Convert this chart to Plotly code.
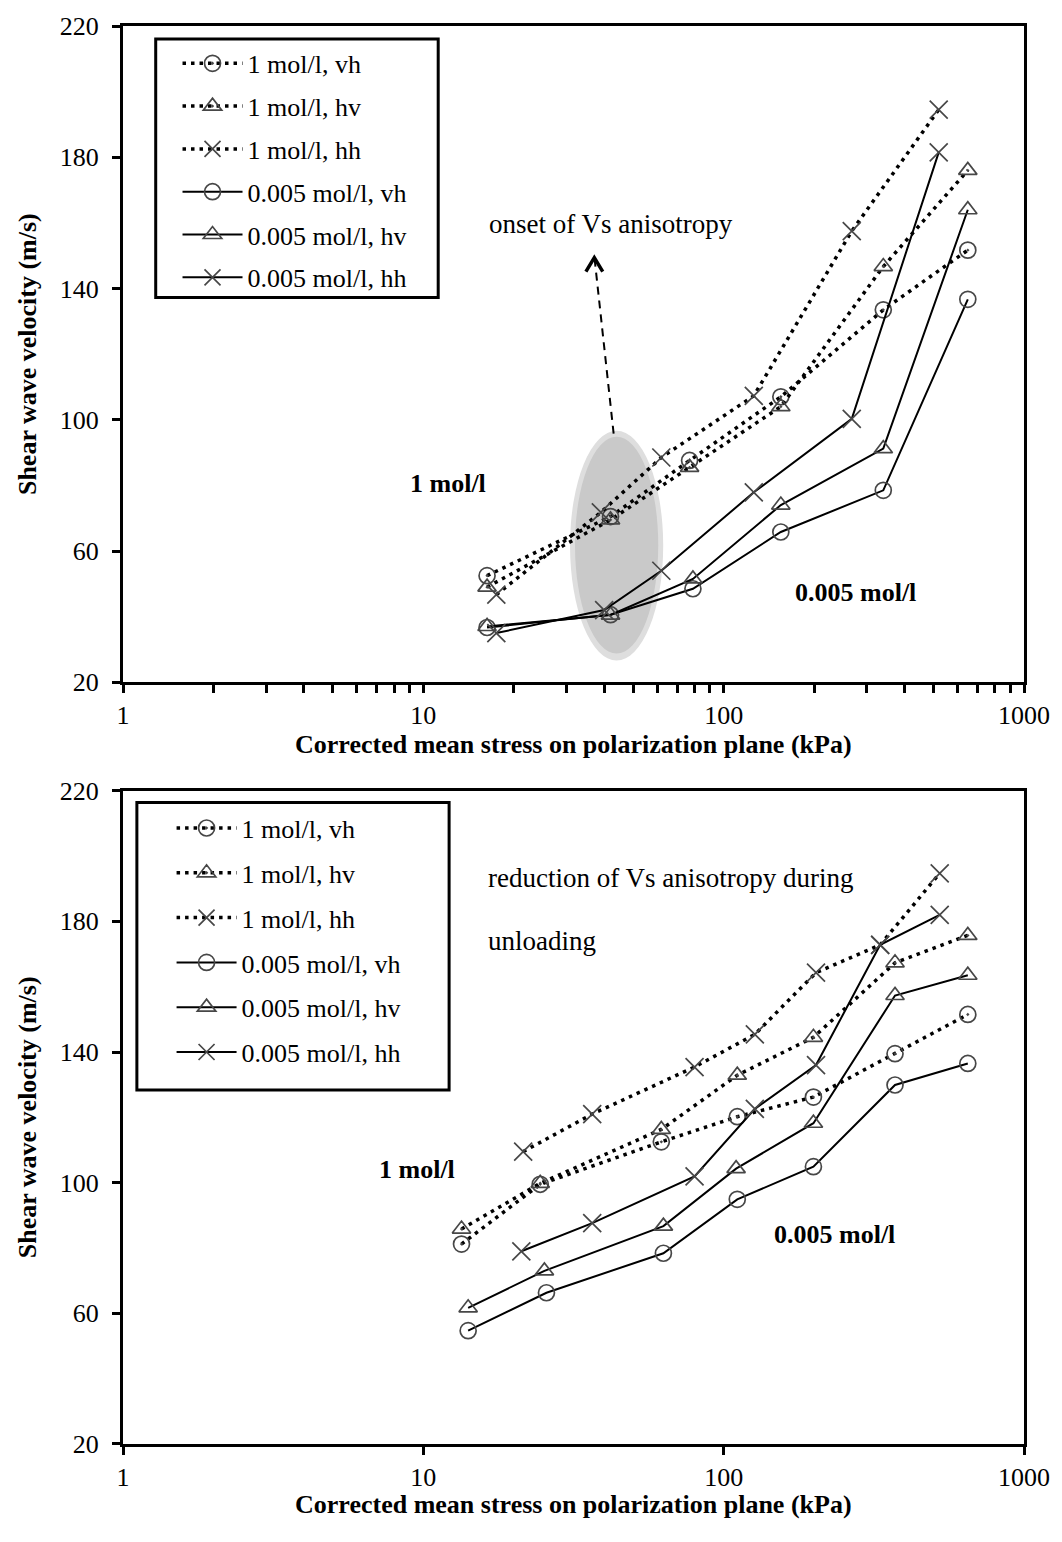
import plotly.graph_objects as go

# ---------------- data: top panel (loading) ----------------
series_names = ["1 mol/l, vh", "1 mol/l, hv", "1 mol/l, hh",
                "0.005 mol/l, vh", "0.005 mol/l, hv", "0.005 mol/l, hh"]

top_x_1m_vh = [16.3, 42, 77, 155, 340, 650]
top_y_1m_vh = [52.5, 70.5, 87.6, 107.0, 133.5, 151.7]
top_x_1m_hv = [16.3, 42, 77, 155, 340, 650]
top_y_1m_hv = [49.0, 69.5, 85.5, 104.0, 146.7, 176.0]
top_x_1m_hh = [17.5, 39, 62, 126, 267, 520]
top_y_1m_hh = [46.7, 71.8, 88.5, 107.3, 157.5, 194.5]
top_x_lo_vh = [16.3, 42, 79, 155, 340, 650]
top_y_lo_vh = [36.7, 40.6, 48.5, 65.8, 78.5, 136.7]
top_x_lo_hv = [16.3, 42, 79, 155, 340, 650]
top_y_lo_hv = [37.0, 40.5, 51.5, 74.0, 91.2, 164.0]
top_x_lo_hh = [17.5, 40, 62, 126, 267, 520]
top_y_lo_hh = [35.0, 42.0, 54.0, 77.9, 100.3, 181.5]

# ---------------- data: bottom panel (unloading) ----------------
bot_x_1m_vh = [13.4, 24.5, 62, 111, 199, 372, 650]
bot_y_1m_vh = [81.2, 99.5, 112.5, 120.2, 126.2, 139.5, 151.5]
bot_x_1m_hv = [13.4, 24.5, 62, 111, 199, 372, 650]
bot_y_1m_hv = [85.8, 99.8, 116.3, 132.9, 144.5, 167.3, 175.7]
bot_x_1m_hh = [21.5, 36.5, 80, 127, 203, 332, 524]
bot_y_1m_hh = [109.5, 121.0, 135.4, 145.4, 164.3, 172.8, 194.7]
bot_x_lo_vh = [14.1, 25.7, 63, 111, 199, 372, 650]
bot_y_lo_vh = [54.7, 66.3, 78.4, 94.9, 104.9, 129.9, 136.5]
bot_x_lo_hv = [14.1, 25.3, 63, 110, 199, 372, 650]
bot_y_lo_hv = [61.7, 73.0, 86.7, 104.3, 118.2, 157.3, 163.5]
bot_x_lo_hh = [21.2, 36.5, 80, 127, 203, 332, 524]
bot_y_lo_hh = [79.0, 87.6, 101.9, 122.6, 136.0, 172.8, 182.0]

x_tick_vals = [1, 10, 100, 1000]
x_tick_text = ["1", "10", "100", "1000"]
y_tick_vals = [20, 60, 100, 140, 180, 220]

x_title = "<b>Corrected mean stress on polarization plane (kPa)</b>"
y_title = "<b>Shear wave velocity (m/s)</b>"

FONT = "Liberation Serif"
W, H = 1062, 1542
ML, MR, MT, MB = 123, 30, 18, 98
PW, PH = W - ML - MR, H - MT - MB


def px(x):
    return (x - ML) / PW


def py(y):
    return (H - MB - y) / PH


styles = [
    dict(dash="3.5px,5px", width=3.5, sym="circle-open-dot"),
    dict(dash="3.5px,5px", width=3.5, sym="triangle-up-open-dot"),
    dict(dash="3.5px,5px", width=3.5, sym="x-thin-open"),
    dict(dash="solid", width=2, sym="circle-open"),
    dict(dash="solid", width=2, sym="triangle-up-open"),
    dict(dash="solid", width=2, sym="x-thin-open"),
]

top_sets = [(top_x_1m_vh, top_y_1m_vh), (top_x_1m_hv, top_y_1m_hv), (top_x_1m_hh, top_y_1m_hh),
            (top_x_lo_vh, top_y_lo_vh), (top_x_lo_hv, top_y_lo_hv), (top_x_lo_hh, top_y_lo_hh)]
bot_sets = [(bot_x_1m_vh, bot_y_1m_vh), (bot_x_1m_hv, bot_y_1m_hv), (bot_x_1m_hh, bot_y_1m_hh),
            (bot_x_lo_vh, bot_y_lo_vh), (bot_x_lo_hv, bot_y_lo_hv), (bot_x_lo_hh, bot_y_lo_hh)]

fig = go.Figure()
for panel, sets, xa, ya, leg in [("t", top_sets, "x", "y", "legend"), ("b", bot_sets, "x2", "y2", "legend2")]:
    for i, ((xs, ys), st, nm) in enumerate(zip(sets, styles, series_names)):
        msize = 18 if "x" in st["sym"] else 16
        fig.add_trace(go.Scatter(
            x=xs, y=ys, name=nm, mode="lines+markers",
            xaxis=xa, yaxis=ya, legend=leg, legendgroup=panel + str(i),
            line=dict(color="black", width=st["width"], dash=st["dash"]),
            marker=dict(symbol=st["sym"], size=msize, color="#474747",
                        line=dict(color="#474747", width=1.7)),
        ))

axis_common = dict(showline=True, linewidth=3, linecolor="black", mirror=True,
                   showgrid=False, zeroline=False, ticks="outside", ticklen=8,
                   tickwidth=3, tickcolor="black",
                   tickfont=dict(family=FONT, size=26, color="black"))

top_dom = [py(678), 1.0]
bot_dom = [0.0, py(787)]

legend_common = dict(xanchor="left", yanchor="top", bgcolor="rgba(0,0,0,0)",
                     borderwidth=0, font=dict(family=FONT, size=26, color="black"),
                     itemwidth=60, traceorder="grouped")

fig.update_layout(
    width=W, height=H,
    margin=dict(l=ML, r=MR, t=MT, b=MB),
    paper_bgcolor="white", plot_bgcolor="rgba(0,0,0,0)",
    font=dict(family=FONT, size=26, color="black"),
    xaxis=dict(type="log", range=[0, 3], domain=[0, 1], anchor="y",
               tickmode="array", tickvals=x_tick_vals, ticktext=x_tick_text,
               minor=dict(ticks="outside", ticklen=8, tickwidth=3, tickcolor="black", dtick="D1"),
               **axis_common),
    yaxis=dict(range=[20, 220], domain=top_dom, anchor="x",
               tickmode="array", tickvals=y_tick_vals, ticklabelstandoff=8,
               title=dict(text=y_title, font=dict(family=FONT, size=26), standoff=16),
               **axis_common),
    xaxis2=dict(type="log", range=[0, 3], domain=[0, 1], anchor="y2",
                tickmode="array", tickvals=x_tick_vals, ticktext=x_tick_text,
                **axis_common),
    yaxis2=dict(range=[20, 220], domain=bot_dom, anchor="x2",
                tickmode="array", tickvals=y_tick_vals, ticklabelstandoff=8,
                title=dict(text=y_title, font=dict(family=FONT, size=26), standoff=16),
                **axis_common),
    legend=dict(x=px(178), y=py(32), tracegroupgap=6, **legend_common),
    legend2=dict(x=px(172), y=py(801), tracegroupgap=8, **legend_common),
)

# legend frames
fig.add_shape(type="rect", xref="paper", yref="paper",
              x0=px(156), x1=px(441), y0=py(291), y1=py(31),
              fillcolor="white", line=dict(color="black", width=3), layer="above")
fig.add_shape(type="rect", xref="paper", yref="paper",
              x0=px(137), x1=px(452), y0=py(1088), y1=py(799),
              fillcolor="white", line=dict(color="black", width=3), layer="above")

# grey ellipse + dashed arrow (top panel)
fig.add_shape(type="circle", xref="paper", yref="paper",
              x0=px(574), x1=px(668), y0=py(656), y1=py(425),
              fillcolor="#dedede", line=dict(width=0), layer="below")
fig.add_shape(type="circle", xref="paper", yref="paper",
              x0=px(579), x1=px(663), y0=py(649), y1=py(431),
              fillcolor="#c9c9c9", line=dict(width=0), layer="below")
fig.add_shape(type="line", xref="paper", yref="paper",
              x0=px(618), y0=py(428), x1=px(599), y1=py(254),
              line=dict(color="black", width=2, dash="8px,6px"))
fig.add_shape(type="path", xref="paper", yref="paper",
              path=f"M {px(590)},{py(265)} L {px(598.5)},{py(251)} L {px(607)},{py(265)}",
              line=dict(color="black", width=3.5))

annots = [
    dict(text="onset of Vs anisotropy", x=px(490), y=py(217), xanchor="left", bold=False),
    dict(text="1 mol/l", x=px(451), y=py(478), xanchor="center", bold=True),
    dict(text="0.005 mol/l", x=px(862), y=py(588), xanchor="center", bold=True),
    dict(text="reduction of Vs anisotropy during", x=px(489), y=py(875), xanchor="left", bold=False),
    dict(text="unloading", x=px(489), y=py(938), xanchor="left", bold=False),
    dict(text="1 mol/l", x=px(420), y=py(1168), xanchor="center", bold=True),
    dict(text="0.005 mol/l", x=px(841), y=py(1233), xanchor="center", bold=True),
]
for a in annots:
    fig.add_annotation(text=("<b>%s</b>" % a["text"]) if a["bold"] else a["text"],
                       x=a["x"], y=a["y"], xref="paper", yref="paper",
                       xanchor=a["xanchor"], yanchor="middle", showarrow=False,
                       font=dict(family=FONT, size=26 if a["bold"] else 27, color="black"))

# x-axis titles
for ty in (741, 1505):
    fig.add_annotation(text=x_title, x=px(578), y=py(ty), xref="paper", yref="paper",
                       xanchor="center", yanchor="middle", showarrow=False,
                       font=dict(family=FONT, size=26, color="black"))

fig.write_html("out.html")
